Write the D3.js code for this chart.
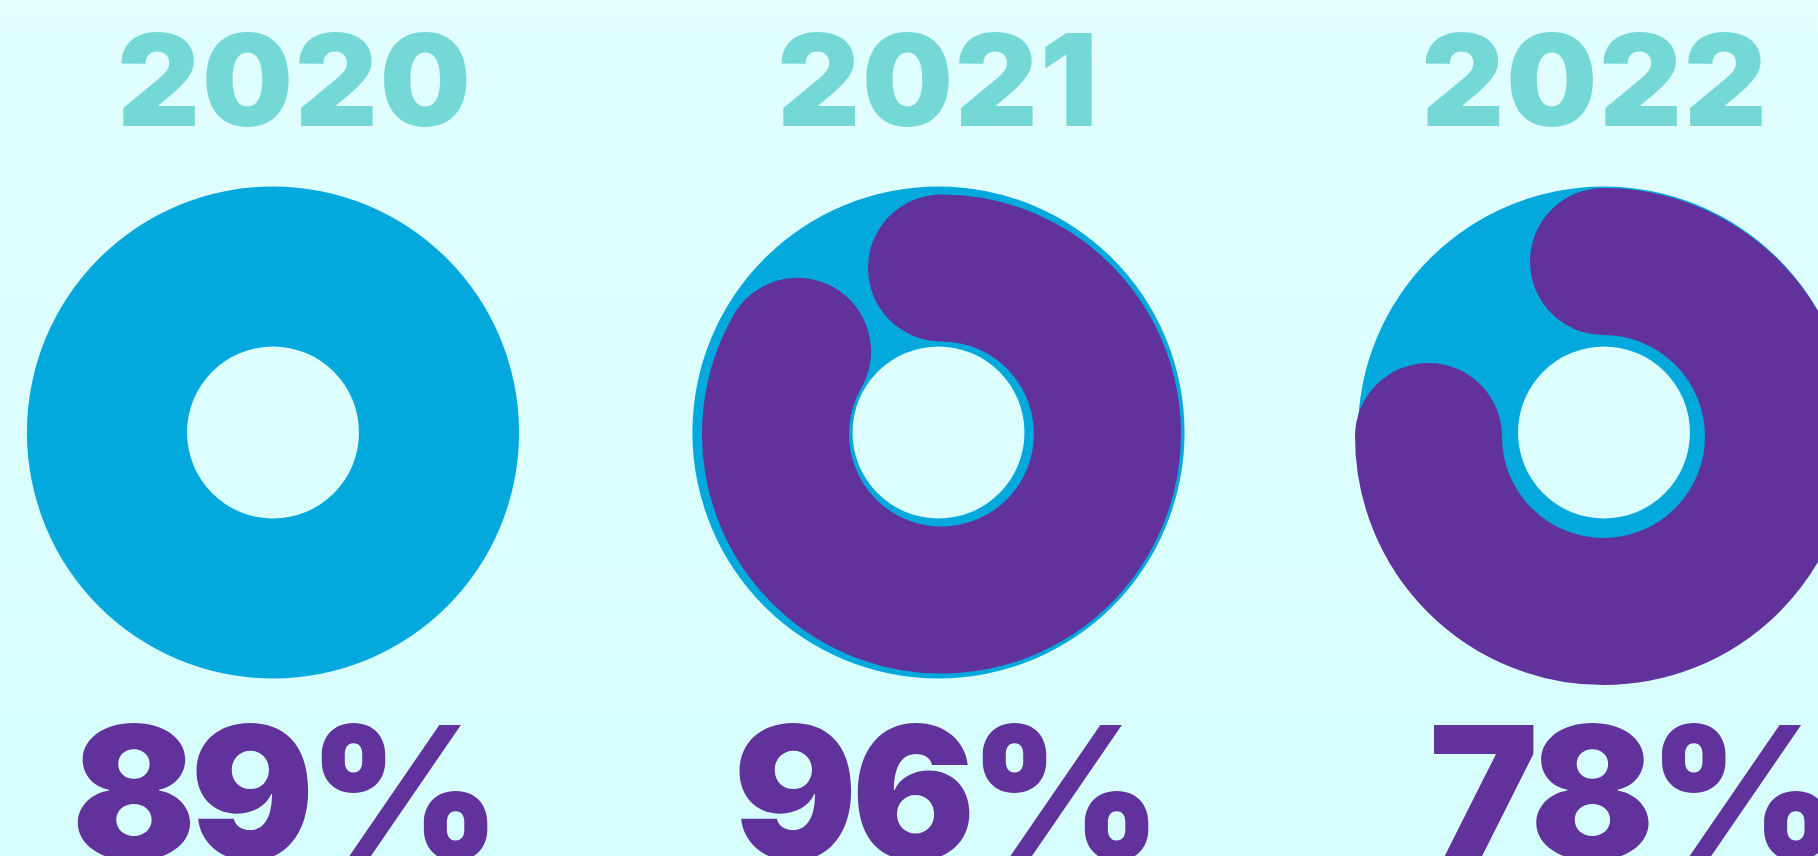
<!DOCTYPE html>
<html>
<head>
<meta charset="utf-8">
<script src="https://cdn.jsdelivr.net/npm/d3@7"></script>
<style>
  body { margin: 0; overflow: hidden; }
  text { font-family: Inter, Lato, "Open Sans", sans-serif; font-weight: 900; }
</style>
</head>
<body>
<script>
// data
var years = ["2020", "2021", "2022"];
var percents = [89, 96, 78];
var arcShare = [0, 0.833, 0.75]; // purple arc, share of the full circle

var width = 1818,
    height = 856;

// layout
var ringOuter = 246, ringInner = 86;
var arcMid = [166, 166, 175], arcWidth = 147;
var arcShift = [[0, 0], [3, 1.5], [-0.5, 4]];
var yearShift = [22, 0, -9];
var labelShift = [10, 6, 28];
var cy = 432.5;

var x = d3.scalePoint()
  .domain(years)
  .range([273, 1604]);

var angle = d3.scaleLinear()
  .domain([0, 1])
  .range([0, 2 * Math.PI]);

var svg = d3.select("body").append("svg")
    .attr("width", width)
    .attr("height", height);

// background
var grad = svg.append("defs").append("linearGradient")
    .attr("id", "bg")
    .attr("x1", 0).attr("y1", 0)
    .attr("x2", 0).attr("y2", 1);
grad.append("stop").attr("offset", "0%").attr("stop-color", "#e2fefe");
grad.append("stop").attr("offset", "100%").attr("stop-color", "#d5fffd");

svg.append("rect")
    .attr("width", width)
    .attr("height", height)
    .attr("fill", "url(#bg)");

var ring = d3.arc()
  .innerRadius(ringInner)
  .outerRadius(ringOuter)
  .startAngle(0)
  .endAngle(angle(1));

var col = svg.selectAll(".col")
    .data(years)
  .enter().append("g")
    .attr("class", "col");

col.append("path")
    .attr("transform", function(d) { return "translate(" + x(d) + "," + cy + ")"; })
    .attr("d", ring())
    .attr("fill", "#03a8dd");

col.filter(function(d, i) { return arcShare[i] > 0; })
  .append("path")
    .attr("d", function(d) {
      var i = years.indexOf(d);
      var p = d3.path();
      p.arc(x(d) + arcShift[i][0], cy + arcShift[i][1], arcMid[i],
        angle(0) - Math.PI / 2, angle(arcShare[i]) - Math.PI / 2);
      return p.toString();
    })
    .attr("fill", "none")
    .attr("stroke", "#61319c")
    .attr("stroke-width", arcWidth)
    .attr("stroke-linecap", "round");

// years on top
col.append("text")
    .attr("x", function(d, i) { return x(d) + yearShift[i]; })
    .attr("y", 126)
    .attr("text-anchor", "middle")
    .attr("font-size", 128)
    .attr("letter-spacing", 2)
    .attr("fill", "#74d9d6")
    .text(function(d) { return d; });

// percentages below
col.append("text")
    .attr("x", function(d, i) { return x(d) + labelShift[i]; })
    .attr("y", 859)
    .attr("text-anchor", "middle")
    .attr("font-size", 184)
    .attr("letter-spacing", -6)
    .attr("fill", "#61319c")
    .text(function(d, i) { return percents[i] + "%"; });
</script>
</body>
</html>
